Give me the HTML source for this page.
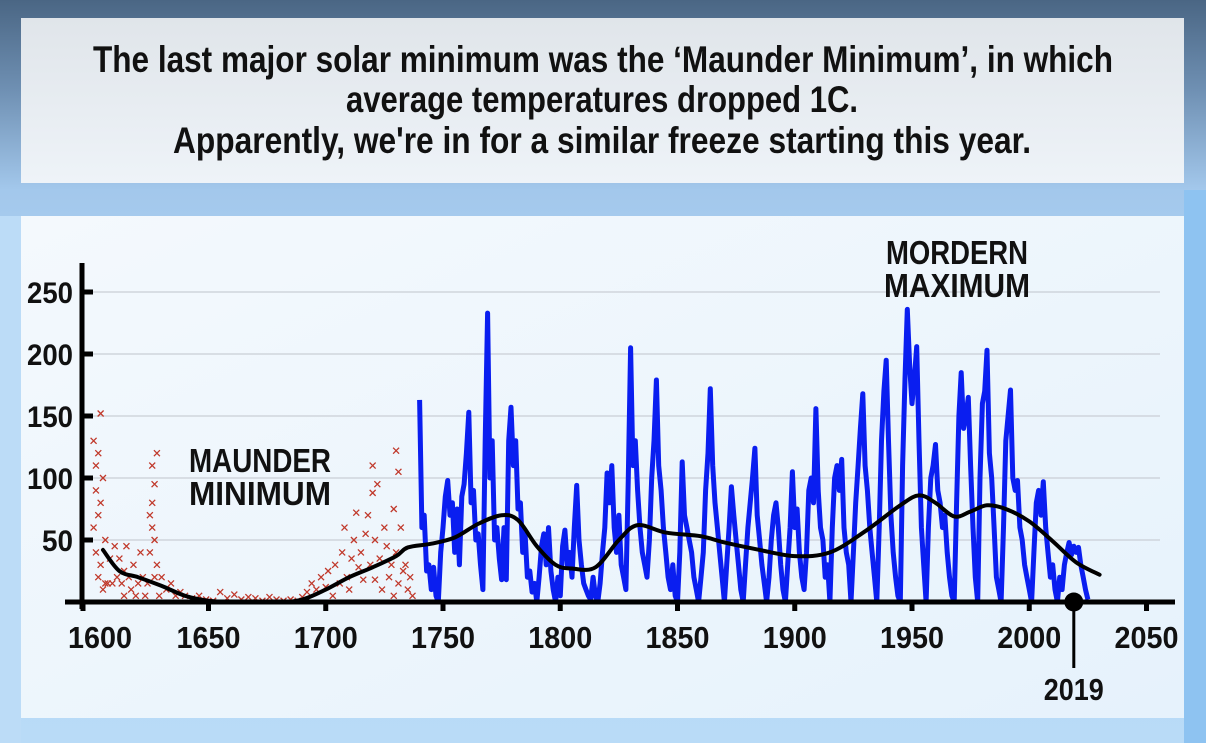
<!DOCTYPE html>
<html><head><meta charset="utf-8"><style>
html,body{margin:0;padding:0;width:1206px;height:743px;overflow:hidden}
body{background:linear-gradient(180deg,#4a6684 0px,#6f90b3 90px,#a3c8ec 190px,#b3d6f5 400px,#b9dbf7 743px)}
svg{display:block;font-family:"Liberation Sans Narrow","Liberation Sans",sans-serif;font-weight:bold}
</style></head><body>
<svg id="chart" width="1206" height="743" viewBox="0 0 1206 743">
<defs>
<linearGradient id="panel" x1="0" y1="0" x2="1" y2="1"><stop offset="0" stop-color="#f4f9fd"/><stop offset="1" stop-color="#e6f2fc"/></linearGradient>
<linearGradient id="tbox" x1="0" y1="0" x2="0" y2="1"><stop offset="0" stop-color="#e0e5ea"/><stop offset="1" stop-color="#eef3f8"/></linearGradient>
</defs>
<rect x="1184" y="190" width="22" height="553" fill="#8ec3f1"/>
<rect x="0" y="216" width="21" height="527" fill="#bcdcf7"/>
<rect x="21" y="18" width="1163" height="165" fill="url(#tbox)"/>
<g font-size="37" fill="#111" text-anchor="middle">
<text x="603" y="72" textLength="1020" lengthAdjust="spacingAndGlyphs">The last major solar minimum was the ‘Maunder Minimum’, in which</text>
<text x="602" y="112" textLength="512" lengthAdjust="spacingAndGlyphs">average temperatures dropped 1C.</text>
<text x="602" y="153" textLength="858" lengthAdjust="spacingAndGlyphs">Apparently, we're in for a similar freeze starting this year.</text>
</g>
<rect x="21" y="216" width="1163" height="502" fill="url(#panel)"/>
<g id="grid"></g>
<g id="red"></g>
<path id="blue" fill="none" stroke="#0a1ef0" stroke-width="5" stroke-linejoin="round"/>
<path id="smooth" fill="none" stroke="#000" stroke-width="4" stroke-linecap="round"/>
<g id="axes"></g>
<g font-size="33" fill="#111" text-anchor="middle">
<text x="260" y="472" textLength="142" lengthAdjust="spacingAndGlyphs">MAUNDER</text>
<text x="260" y="505" textLength="142" lengthAdjust="spacingAndGlyphs">MINIMUM</text>
</g>
<g font-size="33" fill="#111" text-anchor="middle">
<text x="957" y="264" textLength="142" lengthAdjust="spacingAndGlyphs">MORDERN</text>
<text x="957" y="297" textLength="146" lengthAdjust="spacingAndGlyphs">MAXIMUM</text>
</g>
<g id="marker"></g>
</svg>
<script>
const yTicks=[50,100,150,200,250];
const xTicks=[1600,1650,1700,1750,1800,1850,1900,1950,2000,2050];
const sunYears=[1740,1741,1742,1743,1744,1745,1746,1747,1748,1749,1750,1751,1752,1753,1754,1755,1756,1757,1758,1759,1760,1761,1762,1763,1764,1765,1766,1767,1768,1769,1770,1771,1772,1773,1774,1775,1776,1777,1778,1779,1780,1781,1782,1783,1784,1785,1786,1787,1788,1789,1790,1791,1792,1793,1794,1795,1796,1797,1798,1799,1800,1801,1802,1803,1804,1805,1806,1807,1808,1809,1810,1811,1812,1813,1814,1815,1816,1817,1818,1819,1820,1821,1822,1823,1824,1825,1826,1827,1828,1829,1830,1831,1832,1833,1834,1835,1836,1837,1838,1839,1840,1841,1842,1843,1844,1845,1846,1847,1848,1849,1850,1851,1852,1853,1854,1855,1856,1857,1858,1859,1860,1861,1862,1863,1864,1865,1866,1867,1868,1869,1870,1871,1872,1873,1874,1875,1876,1877,1878,1879,1880,1881,1882,1883,1884,1885,1886,1887,1888,1889,1890,1891,1892,1893,1894,1895,1896,1897,1898,1899,1900,1901,1902,1903,1904,1905,1906,1907,1908,1909,1910,1911,1912,1913,1914,1915,1916,1917,1918,1919,1920,1921,1922,1923,1924,1925,1926,1927,1928,1929,1930,1931,1932,1933,1934,1935,1936,1937,1938,1939,1940,1941,1942,1943,1944,1945,1946,1947,1948,1949,1950,1951,1952,1953,1954,1955,1956,1957,1958,1959,1960,1961,1962,1963,1964,1965,1966,1967,1968,1969,1970,1971,1972,1973,1974,1975,1976,1977,1978,1979,1980,1981,1982,1983,1984,1985,1986,1987,1988,1989,1990,1991,1992,1993,1994,1995,1996,1997,1998,1999,2000,2001,2002,2003,2004,2005,2006,2007,2008,2009,2010,2011,2012,2013,2014,2015,2016,2017,2018,2019,2020,2021,2022,2023,2024,2025,2026,2027,2028,2029,2030];
const sunValues=[163,60,70,25,30,10,28,5,0,40,60,85,98,70,80,40,75,30,85,95,120,153,80,90,50,55,30,10,130,233,100,130,50,60,35,18,60,18,130,157,110,130,75,80,40,55,20,25,8,15,0,20,45,55,30,60,25,10,0,20,5,45,58,30,40,20,60,94,50,30,15,10,5,2,20,5,0,15,40,60,104,80,110,60,40,70,30,20,10,100,205,110,130,90,60,40,30,20,50,100,130,179,110,90,60,40,20,10,30,5,0,40,113,70,60,50,40,20,10,0,20,40,90,120,172,110,80,60,40,20,0,30,60,93,70,50,30,10,0,30,60,80,100,124,70,50,30,15,0,20,50,70,80,60,30,10,0,30,60,105,60,75,40,20,10,40,90,100,80,156,90,60,50,20,30,0,60,100,110,90,115,60,40,30,0,40,80,110,140,168,110,90,60,40,20,0,60,130,170,195,130,70,40,20,5,0,110,180,236,190,160,180,206,130,60,30,0,60,100,110,127,90,80,60,70,40,20,5,0,80,150,185,140,150,165,110,60,20,0,100,160,170,203,120,100,60,20,10,0,60,130,150,171,100,90,98,60,50,30,20,10,0,40,80,90,70,97,60,40,20,30,10,0,20,10,30,40,48,38,45,40,44,30,20,10,2];
const trendYears=[1605,1612,1620,1630,1640,1650,1660,1680,1690,1700,1710,1720,1730,1735,1745,1755,1765,1775,1782,1790,1798,1805,1815,1825,1833,1845,1860,1870,1885,1900,1915,1930,1945,1953,1960,1968,1975,1982,1990,2000,2010,2020,2030];
const trendValues=[42,25,20,13,5,1,0,0,2,10,20,28,37,44,47,52,63,70,66,45,30,27,28,50,62,56,53,48,42,37,40,57,78,86,80,69,73,78,75,65,49,32,22];
const redYears=[1601,1601,1602,1602,1602,1603,1603,1603,1604,1604,1604,1605,1605,1606,1606,1607,1608,1609,1610,1611,1612,1613,1614,1614,1615,1616,1617,1618,1619,1620,1621,1622,1623,1624,1625,1625,1626,1626,1626,1627,1627,1627,1628,1628,1629,1630,1632,1634,1636,1638,1640,1643,1646,1649,1652,1655,1658,1661,1664,1667,1670,1673,1676,1679,1682,1685,1688,1690,1692,1694,1696,1698,1700,1701,1703,1704,1706,1707,1708,1709,1710,1711,1712,1713,1714,1715,1716,1717,1718,1719,1720,1720,1721,1721,1722,1723,1724,1725,1726,1727,1728,1729,1729,1730,1730,1731,1731,1732,1733,1734,1735,1736,1737];
const redValues=[130,60,110,40,90,120,70,20,80,152,30,100,10,50,15,15,35,15,45,20,35,15,25,5,45,20,10,30,5,15,40,20,5,15,70,40,80,110,60,95,20,50,120,30,5,20,10,15,5,8,5,3,5,2,1,8,3,6,2,4,3,1,4,2,1,2,1,4,8,15,10,20,12,25,5,30,15,40,60,20,10,35,50,72,28,40,18,55,70,30,88,110,50,18,95,35,10,60,45,20,30,5,75,122,40,105,15,60,25,30,10,20,5];

const NS='http://www.w3.org/2000/svg';
function xs(yr){return 443+(yr-1750)*2.345;}
function ys(v){return 602-v*1.24;}
function mk(tag,attrs,parent){const e=document.createElementNS(NS,tag);for(const k in attrs)e.setAttribute(k,attrs[k]);parent.appendChild(e);return e;}
const grid=document.getElementById('grid');
yTicks.forEach(t=>{const l=mk('line',{x1:83,x2:1160,y1:ys(t),y2:ys(t),stroke:'#c9ced6','stroke-width':1.3},grid);

});
const red=document.getElementById('red');
redYears.forEach((yr,i)=>{const x=xs(yr),y=ys(redValues[i]);const p=mk('path',{d:`M${x-3},${y-3}L${x+3},${y+3}M${x+3},${y-3}L${x-3},${y+3}`,stroke:'#c0392b','stroke-width':1.3},red);

});
document.getElementById('blue').setAttribute('d',sunYears.map((yr,i)=>(i?'L':'M')+xs(yr).toFixed(1)+','+ys(sunValues[i]).toFixed(1)).join(''));
(function(){const pts=trendYears.map((yr,i)=>[xs(yr),ys(trendValues[i])]);let d='M'+pts[0][0]+','+pts[0][1];
for(let i=0;i<pts.length-1;i++){const p0=pts[Math.max(0,i-1)],p1=pts[i],p2=pts[i+1],p3=pts[Math.min(pts.length-1,i+2)];
d+=`C${p1[0]+(p2[0]-p0[0])/6},${p1[1]+(p2[1]-p0[1])/6} ${p2[0]-(p3[0]-p1[0])/6},${p2[1]-(p3[1]-p1[1])/6} ${p2[0]},${p2[1]}`;}
document.getElementById('smooth').setAttribute('d',d);})();
const ax=document.getElementById('axes');
const ya=mk('line',{x1:82,x2:82,y1:263,y2:609,stroke:'#000','stroke-width':5},ax);


const xa=mk('line',{x1:65,x2:1175,y1:602,y2:602,stroke:'#000','stroke-width':5},ax);


yTicks.forEach(t=>{const tk=mk('line',{x1:82,x2:93,y1:ys(t),y2:ys(t),stroke:'#000','stroke-width':5},ax);


const tx=mk('text',{x:73,y:ys(t)+11,'text-anchor':'end','font-size':30,fill:'#111'},ax);tx.textContent=t;
tx.setAttribute('textLength',t>=100?46:31);tx.setAttribute('lengthAdjust','spacingAndGlyphs');

});
xTicks.forEach(t=>{const x=t===1600?83:xs(t);const tk=mk('line',{x1:x,x2:x,y1:602,y2:611,stroke:'#000','stroke-width':5},ax);


const tx=mk('text',{x:t===1600?100:x,y:648,'text-anchor':'middle','font-size':31,fill:'#111',textLength:64,lengthAdjust:'spacingAndGlyphs'},ax);tx.textContent=t;

});
const mg=document.getElementById('marker');const mx=xs(2019);
mk('line',{x1:mx,x2:mx,y1:602,y2:668,stroke:'#000','stroke-width':3},mg);
mk('circle',{cx:mx,cy:602,r:9.5,fill:'#000'},mg);
const mt=mk('text',{x:mx,y:700,'text-anchor':'middle','font-size':31,fill:'#111',textLength:60,lengthAdjust:'spacingAndGlyphs'},mg);mt.textContent='2019';


</script>
</body></html>
